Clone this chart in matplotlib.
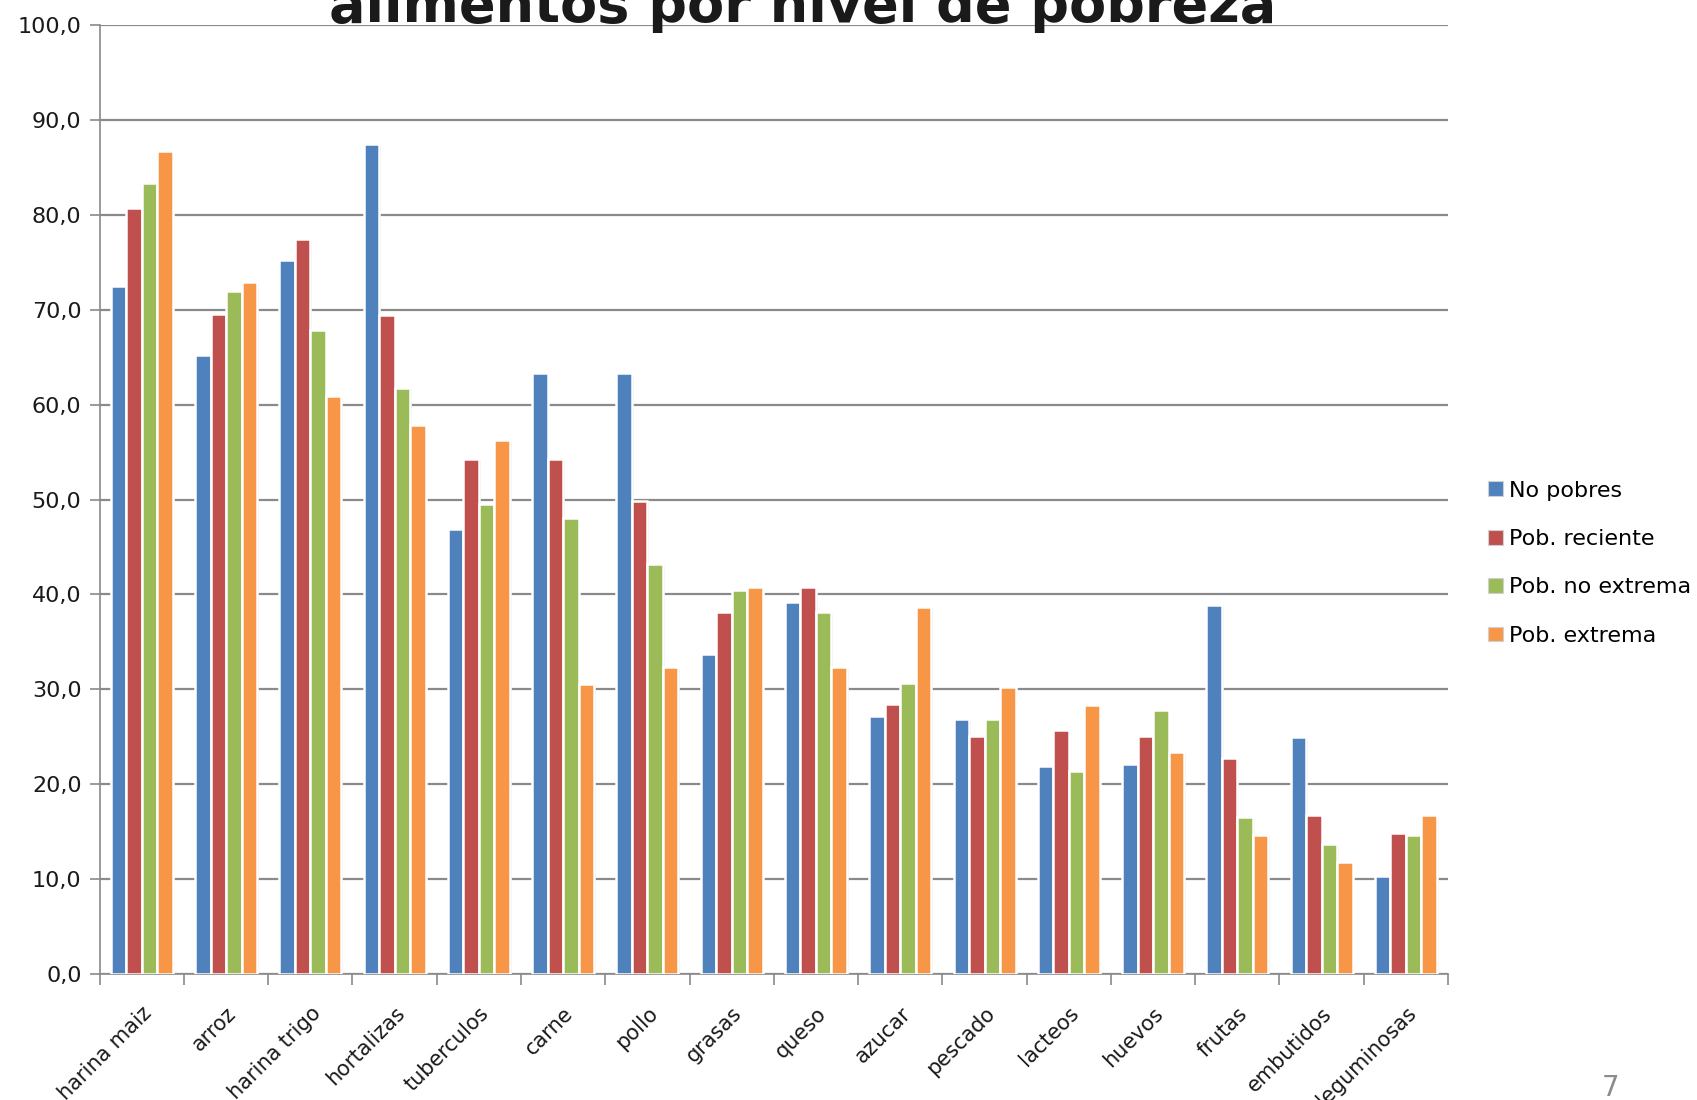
import matplotlib
matplotlib.use("Agg")
import matplotlib.pyplot as plt
import matplotlib.patheffects as pe
from matplotlib.ticker import FuncFormatter, FixedLocator
from matplotlib.patches import Patch
import numpy as np

categories = ["harina maiz", "arroz", "harina trigo", "hortalizas", "tuberculos",
              "carne", "pollo", "grasas", "queso", "azucar", "pescado", "lacteos",
              "huevos", "frutas", "embutidos", "leguminosas"]
no_pobres = [72.5, 65.2, 75.2, 87.5, 46.9, 63.3, 63.3, 33.7, 39.2, 27.2, 26.9, 21.9, 22.1, 38.9, 25.0, 10.3]
pob_reciente = [80.7, 69.5, 77.4, 69.4, 54.3, 54.3, 49.8, 38.1, 40.8, 28.5, 25.1, 25.7, 25.1, 22.8, 16.8, 14.9]
pob_no_extrema = [83.3, 72.0, 67.9, 61.8, 49.5, 48.0, 43.2, 40.5, 38.1, 30.7, 26.9, 21.4, 27.8, 16.5, 13.7, 14.6]
pob_extrema = [86.7, 72.9, 60.9, 57.8, 56.3, 30.6, 32.3, 40.8, 32.3, 38.7, 30.2, 28.3, 23.4, 14.7, 11.8, 16.8]
series_names = ["No pobres", "Pob. reciente", "Pob. no extrema", "Pob. extrema"]
series_values = [no_pobres, pob_reciente, pob_no_extrema, pob_extrema]
colors = ["#4F81BD", "#C0504D", "#9BBB59", "#F79646"]
y_ticks = [0, 10, 20, 30, 40, 50, 60, 70, 80, 90, 100]

title_text = "alimentos por nivel de pobreza"

plt.rcParams['font.family'] = ['DejaVu Sans']

fig = plt.figure(figsize=(16.97, 11.0), dpi=100)
ax = fig.add_axes([0.0587, 0.1145, 0.8533 - 0.0587, 0.9773 - 0.1145])

x = np.arange(len(categories))
bw = 0.184
offsets = (np.arange(4) - 1.5) * bw
shadow = [pe.SimplePatchShadow(offset=(1.2, -1.2), shadow_rgbFace='#9a9a9a', alpha=0.35), pe.Normal()]
for vals, off, col, name in zip(series_values, offsets, colors, series_names):
    bars = ax.bar(x + off, vals, width=bw, color=col, edgecolor='white', linewidth=1.8,
                  label=name, zorder=3)
    for b in bars:
        b.set_path_effects(shadow)

ax.set_xlim(-0.5, len(categories) - 0.5)
ax.set_ylim(0, 100)
ax.yaxis.set_major_locator(FixedLocator(y_ticks))
ax.yaxis.set_major_formatter(FuncFormatter(lambda v, p: f"{v:.1f}".replace('.', ',')))
ax.grid(axis='y', color='#8a8a8a', linewidth=1.6, zorder=0)
ax.set_axisbelow(True)

ax.set_xticks(x)
ax.set_xticklabels(categories, rotation=45, ha='right', va='top', rotation_mode='anchor',
                   fontsize=15, color='#1a1a1a')
ax.set_xticks(np.arange(-0.5, len(categories), 1), minor=True)
ax.tick_params(axis='x', which='major', length=0, pad=21)
ax.tick_params(axis='x', which='minor', length=8, color='#8a8a8a', width=1.2)
ax.tick_params(axis='y', length=7, color='#8a8a8a', width=1.2, labelsize=16,
               labelcolor='#1a1a1a', pad=6)

for s in ['top', 'right']:
    ax.spines[s].set_visible(False)
for s in ['left', 'bottom']:
    ax.spines[s].set_color('#8a8a8a')
    ax.spines[s].set_linewidth(1.2)

handles = [Patch(facecolor=c, edgecolor='#d0d0d0', linewidth=0.8) for c in colors]
fig.legend(handles, series_names, loc='center left', bbox_to_anchor=(0.877, 0.488),
           frameon=False, fontsize=16, handlelength=0.65, handleheight=0.65,
           handletextpad=0.3, labelspacing=1.28, borderpad=0, borderaxespad=0)

fig.text(0.473, 1 - 22 / 1100, title_text, ha='center', va='baseline',
         fontsize=39, fontweight='bold', color='#1a1a1a')
fig.text(0.949, 1 - 1096 / 1100, "7", ha='center', va='baseline', fontsize=20, color='#8c8c8c')

fig.savefig("out.png", dpi=100, facecolor='white')
